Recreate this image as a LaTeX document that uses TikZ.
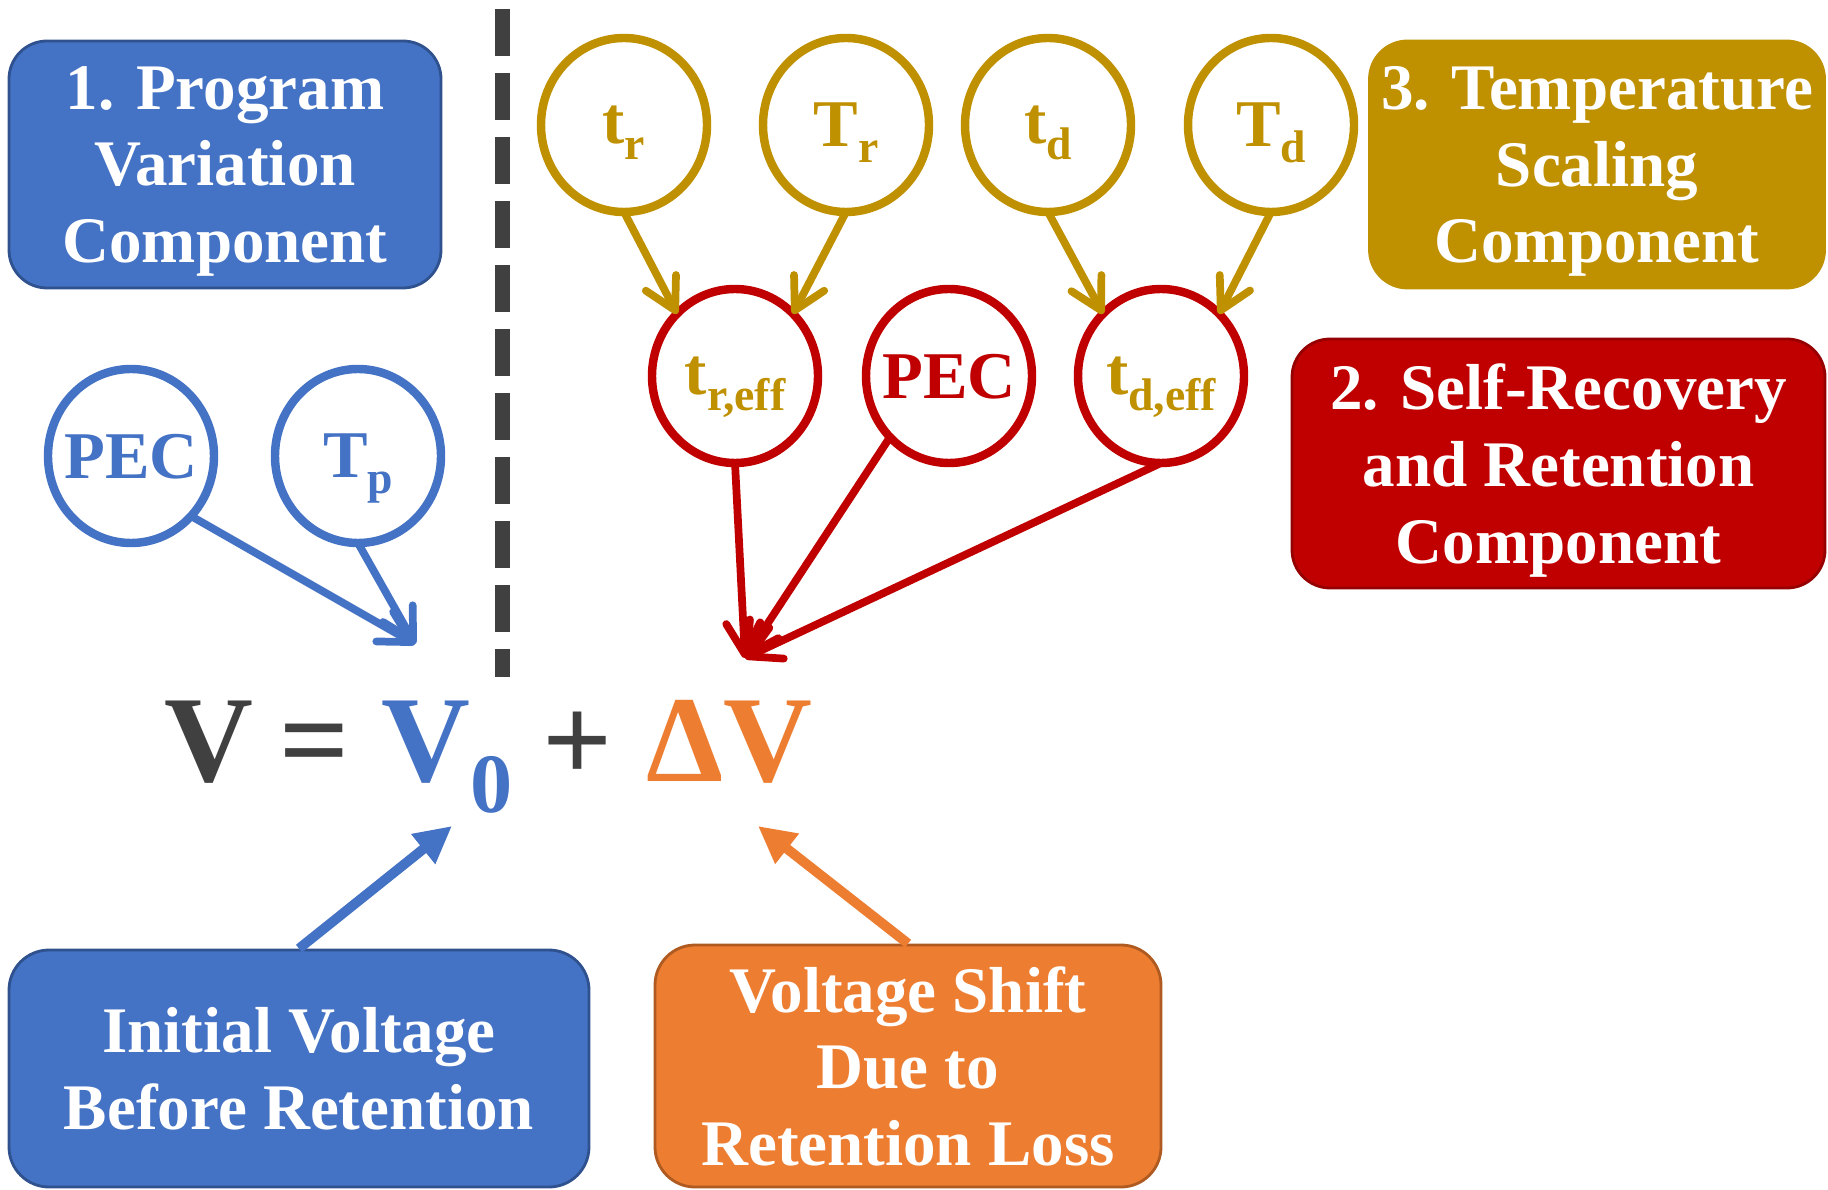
\documentclass[tikz,border=0pt]{standalone}
\usepackage{fontspec}
\setmainfont{Liberation Serif}
\usetikzlibrary{arrows.meta,positioning,shapes.geometric}

\definecolor{pvblue}{HTML}{4472C4}
\definecolor{pvblueline}{HTML}{2F528F}
\definecolor{tsgold}{HTML}{BF9000}
\definecolor{srred}{HTML}{C00000}
\definecolor{srredline}{HTML}{960000}
\definecolor{vsorange}{HTML}{ED7D31}
\definecolor{vsorangeline}{HTML}{AE5A21}
\definecolor{eqgray}{HTML}{404040}
\newcommand{\lowsub}[1]{\raisebox{-0.16cm}{\fontsize{13}{13}\selectfont #1}}

\begin{document}
\begin{tikzpicture}[
  panel/.style={rectangle, rounded corners=0.38cm, draw, line width=0.8pt, text=white, inner sep=2pt, text depth=0pt, align=center, font=\fontsize{18.5}{21.8}\selectfont\bfseries},
  var/.style={ellipse, draw, line width=2.4pt, minimum width=1.66cm, minimum height=1.74cm, inner sep=-0.35cm, outer sep=0pt, text depth=0pt, font=\fontsize{19}{19}\selectfont\bfseries},
  eq/.style={inner sep=0pt, anchor=base, font=\fontsize{35}{35}\selectfont\bfseries},
  link/.style={-{Straight Barb[length=3.1mm,width=3.4mm,round]}, line width=2.2pt, line cap=round},
  callout/.style={-{Triangle[length=3.7mm,width=3.6mm]}, line width=2.8pt}
]
\useasboundingbox (0,0) rectangle (18.28,11.89);

\node[panel, fill=pvblue, draw=pvblueline, minimum width=4.32cm, minimum height=2.47cm] (progbox) at (2.25,10.245) {1. Program\\Variation\\Component};
\node[panel, fill=tsgold, draw=tsgold, minimum width=4.55cm, minimum height=2.47cm] (tempbox) at (15.97,10.245) {3. Temperature\\Scaling\\Component};
\node[panel, fill=srred, draw=srredline, minimum width=5.33cm, minimum height=2.49cm] (recbox) at (15.585,7.255) {2. Self-Recovery\\and Retention\\Component};
\node[panel, fill=pvblue, draw=pvblueline, rounded corners=0.4cm, minimum width=5.80cm, minimum height=2.37cm] (ibox) at (2.99,1.205) {Initial Voltage\\Before Retention};
\node[panel, fill=vsorange, draw=vsorangeline, rounded corners=0.4cm, minimum width=5.06cm, minimum height=2.42cm] (obox) at (9.08,1.23) {Voltage Shift\\Due to\\Retention Loss};

\draw[eqgray, line width=0.15cm, dash pattern=on 0.47cm off 0.17cm] (5.02,11.80) -- (5.02,5.12);

\node[var, draw=tsgold, text=tsgold] (tr) at (6.24,10.64) {t\lowsub{r}};
\node[var, draw=tsgold, text=tsgold, right=0.56cm of tr] (Tr) {T\lowsub{r}};
\node[var, draw=tsgold, text=tsgold, right=0.36cm of Tr] (td) {t\lowsub{d}};
\node[var, draw=tsgold, text=tsgold, right=0.57cm of td] (Td) {T\lowsub{d}};

\node[var, draw=srred, text=tsgold] (treff) at (7.35,8.13) {t\lowsub{r,eff}};
\node[var, draw=srred, text=srred, right=0.48cm of treff] (pecr) {PEC};
\node[var, draw=srred, text=tsgold, right=0.46cm of pecr] (tdeff) {t\lowsub{d,eff}};

\node[var, draw=pvblue, text=pvblue] (pecb) at (1.31,7.33) {PEC};
\node[var, draw=pvblue, text=pvblue, right=0.61cm of pecb] (tp) {T\lowsub{p}};

\node[eq, text=eqgray] (vtot) at (2.085,4.08) {V};
\node[eq, text=eqgray] (equal) at (3.145,4.08) {=};
\node[eq, text=pvblue, anchor=base west] (vzero) at (3.81,4.08) {V\raisebox{-0.31cm}{\fontsize{24}{24}\selectfont 0}};
\node[eq, text=eqgray] (plus) at (5.78,4.08) {+};
\node[eq, text=vsorange] (dv) at (7.29,4.08) {ΔV};

\coordinate (vzabove) at (4.15,5.45);
\coordinate (dvabove) at (7.45,5.31);
\coordinate (vzbelow) at (4.52,3.63);
\coordinate (dvbelow) at (7.58,3.63);

\draw[link, tsgold] (tr.south) -- (treff.133);
\draw[link, tsgold] (Tr.south) -- (treff.47);
\draw[link, tsgold] (td.south) -- (tdeff.133);
\draw[link, tsgold] (Td.south) -- (tdeff.47);

\draw[link, srred] (treff.south) -- (dvabove);
\draw[link, srred] (pecr.226) -- (dvabove);
\draw[link, srred] (tdeff.south) -- (dvabove);

\draw[link, pvblue] (pecb.-45) -- (vzabove);
\draw[link, pvblue] (tp.south) -- (vzabove);

\draw[callout, pvblue] (ibox.north) -- (vzbelow);
\draw[callout, vsorange] (obox.north) -- (dvbelow);
\end{tikzpicture}
\end{document}
